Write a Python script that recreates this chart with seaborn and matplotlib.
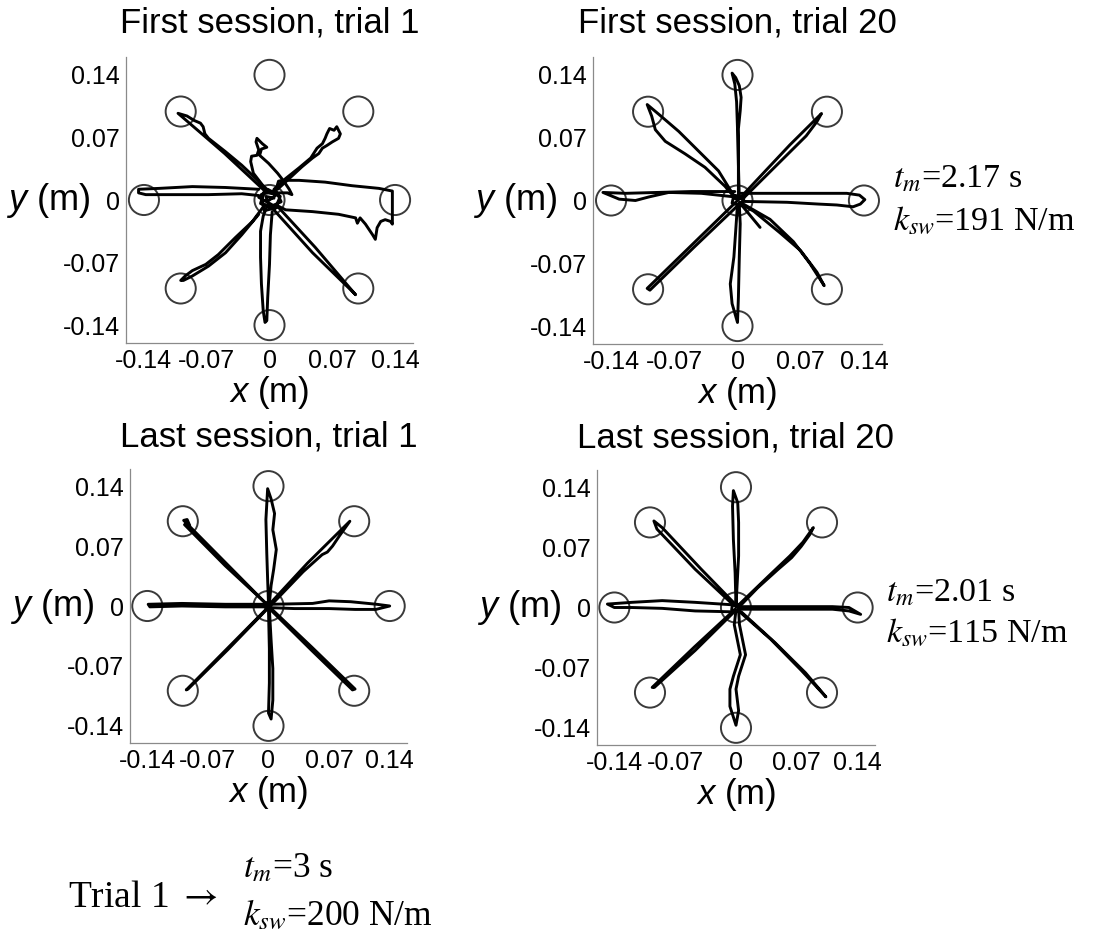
import matplotlib
matplotlib.use("Agg")
import matplotlib.pyplot as plt
import pandas as pd
import seaborn as sns

# ---------------------------------------------------------------------------
# Workspace: eight peripheral targets on a 0.14 m ring plus the home target
# ---------------------------------------------------------------------------
TARGET_X = [0.0, 0.099, 0.14, 0.099, 0.0, -0.099, -0.14, -0.099, 0.0]
TARGET_Y = [0.14, 0.099, 0.0, -0.099, -0.14, -0.099, 0.0, 0.099, 0.0]

TICKS = [-0.14, -0.07, 0.0, 0.07, 0.14]
TICK_LABELS = ["-0.14", "-0.07", "0", "0.07", "0.14"]

# Hand paths in metres: one out-and-back polyline per reach direction.
FIRST_T1 = {
    "NW": [(-0.003, 0.008), (-0.050, 0.052), (-0.102, 0.097), (-0.092, 0.094),
           (-0.084, 0.089), (-0.077, 0.086), (-0.074, 0.082), (-0.072, 0.074),
           (-0.068, 0.069), (-0.049, 0.054), (-0.031, 0.039), (-0.012, 0.021),
           (-0.005, 0.012)],
    "N": [(-0.001, 0.010), (-0.008, 0.017), (-0.018, 0.030), (-0.021, 0.043),
          (-0.020, 0.049), (-0.014, 0.050), (-0.012, 0.056), (-0.015, 0.065),
          (-0.014, 0.069), (-0.008, 0.063), (-0.003, 0.059), (-0.009, 0.057),
          (-0.011, 0.050), (-0.001, 0.041), (0.009, 0.030), (0.016, 0.021),
          (0.022, 0.012), (0.025, 0.006), (0.020, 0.008), (0.010, 0.008)],
    "NE": [(0.005, 0.012), (0.018, 0.024), (0.033, 0.036), (0.046, 0.047),
           (0.053, 0.058), (0.059, 0.063), (0.062, 0.069), (0.064, 0.074),
           (0.067, 0.080), (0.072, 0.078), (0.075, 0.082), (0.079, 0.074),
           (0.077, 0.069), (0.070, 0.065), (0.064, 0.061), (0.059, 0.058),
           (0.055, 0.052), (0.048, 0.047), (0.036, 0.037), (0.022, 0.024),
           (0.009, 0.012)],
    "E": [(0.008, 0.014), (0.010, 0.021), (0.014, 0.022), (0.033, 0.022),
          (0.062, 0.020), (0.092, 0.016), (0.122, 0.013), (0.137, 0.010),
          (0.137, -0.010), (0.137, -0.027), (0.135, -0.024), (0.129, -0.022),
          (0.124, -0.024), (0.120, -0.031), (0.118, -0.044), (0.115, -0.039),
          (0.107, -0.027), (0.101, -0.020), (0.098, -0.026), (0.096, -0.020),
          (0.077, -0.016), (0.048, -0.013), (0.018, -0.011), (0.008, -0.006)],
    "SE": [(0.007, -0.005), (0.051, -0.053), (0.096, -0.106), (0.092, -0.102),
           (0.048, -0.059), (0.003, -0.009)],
    "S": [(-0.002, -0.005), (-0.007, -0.018), (-0.010, -0.035), (-0.010, -0.064),
          (-0.009, -0.094), (-0.007, -0.124), (-0.005, -0.137), (-0.003, -0.135),
          (-0.002, -0.109), (0.000, -0.072), (0.001, -0.039), (0.003, -0.013)],
    "SW": [(-0.005, -0.005), (-0.019, -0.024), (-0.038, -0.042), (-0.057, -0.061),
           (-0.071, -0.072), (-0.086, -0.079), (-0.094, -0.085), (-0.099, -0.090),
           (-0.096, -0.090), (-0.086, -0.085), (-0.068, -0.074), (-0.049, -0.059),
           (-0.031, -0.039), (-0.012, -0.016)],
    "W": [(-0.012, 0.012), (-0.049, 0.014), (-0.086, 0.015), (-0.123, 0.013),
          (-0.146, 0.012), (-0.146, 0.008), (-0.138, 0.006), (-0.105, 0.006),
          (-0.068, 0.006), (-0.031, 0.007), (-0.012, 0.005)],
    "home": [(0.000, 0.000), (0.008, 0.006), (-0.006, 0.009), (-0.010, -0.004),
             (0.006, -0.010), (0.012, 0.004), (-0.002, 0.012), (-0.012, 0.003),
             (0.004, -0.006), (0.010, -0.008), (-0.006, -0.012), (-0.009, 0.006),
             (0.007, 0.011), (0.013, -0.002), (0.000, -0.008), (-0.004, 0.004),
             (0.005, 0.002)],
}

FIRST_T20 = {
    "N": [(0.001, 0.002), (0.001, 0.040), (0.000, 0.080), (-0.001, 0.110),
          (-0.003, 0.130), (-0.006, 0.142), (-0.002, 0.137), (0.002, 0.128),
          (0.004, 0.115), (0.003, 0.100), (0.001, 0.080), (0.001, 0.040),
          (0.002, 0.003)],
    "NE": [(0.003, 0.003), (0.030, 0.032), (0.058, 0.062), (0.080, 0.084),
           (0.093, 0.097), (0.088, 0.088), (0.076, 0.072), (0.056, 0.052),
           (0.030, 0.026), (0.006, 0.002)],
    "E": [(0.003, 0.008), (0.055, 0.008), (0.100, 0.008), (0.121, 0.008),
          (0.135, 0.006), (0.141, 0.001), (0.136, -0.004), (0.128, -0.007),
          (0.110, -0.005), (0.090, -0.004), (0.055, -0.002), (0.005, -0.001)],
    "SE": [(0.003, -0.002), (0.036, -0.021), (0.062, -0.046), (0.080, -0.070),
           (0.096, -0.095), (0.088, -0.080), (0.070, -0.056), (0.047, -0.036),
           (0.018, -0.012), (0.004, -0.004)],
    "stub": [(0.002, -0.002), (0.025, -0.030)],
    "S": [(0.002, -0.004), (0.003, -0.026), (0.002, -0.063), (0.001, -0.108),
          (0.000, -0.136), (-0.006, -0.115), (-0.008, -0.093), (-0.004, -0.063),
          (-0.002, -0.034), (0.000, -0.004)],
    "SW": [(-0.001, -0.001), (-0.050, -0.049), (-0.100, -0.098), (-0.097, -0.100),
           (-0.048, -0.052), (0.002, -0.004)],
    "W": [(-0.003, 0.010), (-0.051, 0.010), (-0.088, 0.009), (-0.124, 0.008),
          (-0.149, 0.009), (-0.131, 0.0015), (-0.113, 0.000), (-0.098, 0.004),
          (-0.076, 0.009), (-0.040, 0.008), (-0.003, 0.004)],
    "NW": [(-0.002, 0.002), (-0.021, 0.033), (-0.043, 0.055), (-0.065, 0.077),
           (-0.087, 0.096), (-0.100, 0.107), (-0.095, 0.094), (-0.091, 0.079),
           (-0.080, 0.066), (-0.058, 0.052), (-0.036, 0.037), (-0.014, 0.016),
           (-0.002, 0.002)],
    "home": [(0.000, 0.000), (0.005, 0.004), (-0.004, 0.006), (-0.006, -0.003),
             (0.004, -0.006), (0.007, 0.002), (-0.002, 0.003)],
}

LAST_T1 = {
    "N": [(0.000, 0.003), (-0.001, 0.031), (-0.002, 0.062), (-0.003, 0.101),
          (-0.001, 0.137), (0.003, 0.125), (0.007, 0.108), (0.005, 0.089),
          (0.009, 0.066), (0.006, 0.043), (0.003, 0.024), (0.001, 0.003)],
    "NE": [(0.001, 0.002), (0.045, 0.050), (0.094, 0.099), (0.082, 0.082),
           (0.074, 0.070), (0.068, 0.063), (0.062, 0.060), (0.040, 0.040),
           (0.003, 0.001)],
    "E": [(0.003, 0.002), (0.051, 0.003), (0.070, 0.006), (0.095, 0.005),
          (0.125, 0.002), (0.140, 0.000), (0.124, -0.004), (0.100, -0.004),
          (0.070, -0.003), (0.030, -0.003), (0.003, -0.002)],
    "SE": [(0.002, -0.002), (0.050, -0.048), (0.100, -0.097), (0.097, -0.098),
           (0.050, -0.052), (0.003, -0.005)],
    "S": [(0.001, -0.003), (0.003, -0.040), (0.005, -0.073), (0.005, -0.110),
          (0.003, -0.132), (0.000, -0.125), (0.001, -0.090), (0.001, -0.050),
          (0.000, -0.005)],
    "SW": [(-0.001, -0.002), (-0.048, -0.050), (-0.095, -0.098), (-0.093, -0.097),
           (-0.047, -0.051), (-0.002, -0.004)],
    "W": [(-0.002, 0.002), (-0.050, 0.002), (-0.100, 0.003), (-0.139, 0.002),
          (-0.137, -0.001), (-0.100, 0.000), (-0.050, -0.001), (-0.002, -0.001)],
    "NW": [(-0.002, 0.002), (-0.050, 0.051), (-0.098, 0.100), (-0.094, 0.101),
           (-0.091, 0.094), (-0.097, 0.095), (-0.050, 0.047), (-0.003, 0.003)],
    "home": [(0.000, 0.000), (0.004, 0.004), (-0.004, 0.004), (-0.003, -0.004),
             (0.004, -0.003), (0.000, 0.002)],
}

LAST_T20 = {
    "N": [(0.000, 0.002), (0.003, 0.060), (0.003, 0.099), (0.002, 0.122),
          (-0.003, 0.136), (-0.004, 0.118), (-0.003, 0.079), (-0.001, 0.040),
          (0.000, 0.002)],
    "NE": [(0.002, 0.002), (0.038, 0.037), (0.062, 0.060), (0.077, 0.076),
           (0.089, 0.093), (0.085, 0.085), (0.075, 0.071), (0.064, 0.058),
           (0.048, 0.044), (0.025, 0.023), (0.003, 0.000)],
    "E": [(0.003, 0.001), (0.050, 0.001), (0.111, 0.001), (0.130, 0.000),
          (0.1435, -0.008), (0.130, -0.004), (0.111, -0.002), (0.050, -0.002),
          (0.003, -0.002)],
    "SE": [(0.002, -0.003), (0.040, -0.037), (0.075, -0.073), (0.1035, -0.104),
           (0.080, -0.076), (0.045, -0.041), (0.006, -0.005)],
    "S": [(0.000, -0.003), (-0.002, -0.020), (0.002, -0.040), (0.005, -0.055),
          (-0.003, -0.080), (-0.007, -0.095), (-0.007, -0.115), (0.000, -0.137),
          (0.003, -0.120), (0.000, -0.095), (0.003, -0.080), (0.011, -0.055),
          (0.008, -0.040), (0.004, -0.020), (0.003, -0.003)],
    "SW": [(-0.001, -0.002), (-0.048, -0.046), (-0.0965, -0.093), (-0.094, -0.093),
           (-0.047, -0.050), (-0.002, -0.005)],
    "W": [(-0.002, 0.003), (-0.047, 0.006), (-0.085, 0.008), (-0.120, 0.006),
          (-0.148, 0.004), (-0.140, 0.000), (-0.120, 0.000), (-0.085, -0.001),
          (-0.047, -0.004), (-0.005, -0.005)],
    "NW": [(-0.002, 0.002), (-0.047, 0.0445), (-0.091, 0.0913), (-0.0945, 0.1007),
           (-0.085, 0.093), (-0.040, 0.0445), (-0.001, 0.004)],
    "home": [(0.000, 0.000), (0.005, 0.003), (-0.004, 0.005), (-0.005, -0.003),
             (0.004, -0.005), (0.002, 0.002)],
}

PANEL_TITLES = ["First session, trial 1", "First session, trial 20",
                "Last session, trial 1", "Last session, trial 20"]
T_M_VALUES = [None, "2.17", None, "2.01"]
K_SW_VALUES = [None, "191", None, "115"]

# ---------------------------------------------------------------------------
sns.set_theme(style="white")
plt.rcParams["font.family"] = ["Liberation Sans", "DejaVu Sans"]
plt.rcParams["mathtext.fontset"] = "custom"
plt.rcParams["mathtext.it"] = "Liberation Sans:italic"
plt.rcParams["mathtext.rm"] = "Liberation Sans"
for key in ("text.color", "axes.labelcolor", "xtick.labelcolor", "ytick.labelcolor"):
    plt.rcParams[key] = "black"

W, H = 1093, 936
fig = plt.figure(figsize=(W / 100, H / 100), dpi=100)
fig.patch.set_facecolor("white")


def px_axes(left, top, right, bottom):
    return fig.add_axes([left / W, 1 - bottom / H, (right - left) / W, (bottom - top) / H])


# axes boxes in pixels: (left, top, right, bottom)
boxes = [(126, 57, 413, 343), (593, 57, 882, 344),
         (130, 469, 407, 743), (597, 470, 875, 745)]
title_pads = [17.3, 17.3, 16.2, 16.2]
paths = [FIRST_T1, FIRST_T20, LAST_T1, LAST_T20]

AXIS_GREY = "#8a8a8a"
SERIF = ["Liberation Serif"]

for i, (box, traj) in enumerate(zip(boxes, paths)):
    ax = px_axes(*box)
    ax.set_facecolor("white")

    rows = []
    for name, pts in traj.items():
        for k, (x, y) in enumerate(pts):
            rows.append({"reach": name, "step": k, "x": x, "y": y})
    df = pd.DataFrame(rows)

    sns.scatterplot(x=TARGET_X, y=TARGET_Y, ax=ax, s=470, marker="o",
                    facecolor="none", edgecolor="#3a3a3a", linewidth=1.4,
                    legend=False, zorder=2)
    sns.lineplot(data=df, x="x", y="y", units="reach", estimator=None,
                 sort=False, color="black", linewidth=2.1, ax=ax,
                 legend=False, zorder=3)

    ax.set_xlim(-0.16, 0.16)
    ax.set_ylim(-0.16, 0.16)
    ax.set_xticks(TICKS)
    ax.set_xticklabels(TICK_LABELS)
    ax.set_yticks(TICKS)
    ax.set_yticklabels(TICK_LABELS)
    ax.tick_params(direction="in", length=4, width=0.8, color=AXIS_GREY,
                   labelcolor="black", labelsize=18)
    ax.tick_params(axis="x", pad=4.6)
    ax.tick_params(axis="y", pad=4.3)
    for side in ("top", "right"):
        ax.spines[side].set_visible(False)
    for side in ("left", "bottom"):
        ax.spines[side].set_color(AXIS_GREY)
        ax.spines[side].set_linewidth(0.9)

    ax.set_title(PANEL_TITLES[i], fontsize=25, pad=title_pads[i], color="black")
    h_px = box[3] - box[1]
    w_px = box[2] - box[0]
    ax.set_xlabel(r"$x$ (m)", fontsize=25, va="baseline")
    ax.xaxis.set_label_coords(0.5, -59 / h_px)
    ax.set_ylabel(r"$y$ (m)", fontsize=26, rotation=0, ha="right", va="center")
    ax.yaxis.set_label_coords(-36 / w_px, 0.5)

    if T_M_VALUES[i] is not None:
        x0 = (box[2] + 11) / W
        fig.text(x0, 1 - (box[1] + 131) / H, r"$t_m$=" + T_M_VALUES[i] + " s",
                 fontsize=24.5, family=SERIF, math_fontfamily="stix",
                 ha="left", va="baseline")
        fig.text(x0, 1 - (box[1] + 172) / H, r"$k_{sw}$=" + K_SW_VALUES[i] + " N/m",
                 fontsize=24.5, family=SERIF, math_fontfamily="stix",
                 ha="left", va="baseline")

# initial-trial settings shown beneath the panels
fig.text(68 / W, 1 - 907 / H, r"Trial 1 $\rightarrow$", fontsize=27,
         family=SERIF, math_fontfamily="stix", ha="left", va="baseline")
fig.text(243 / W, 1 - 877 / H, r"$t_m$=3 s", fontsize=25.5,
         family=SERIF, math_fontfamily="stix", ha="left", va="baseline")
fig.text(243 / W, 1 - 925 / H, r"$k_{sw}$=200 N/m", fontsize=25.5,
         family=SERIF, math_fontfamily="stix", ha="left", va="baseline")

fig.savefig("out.png", dpi=100, facecolor="white")
